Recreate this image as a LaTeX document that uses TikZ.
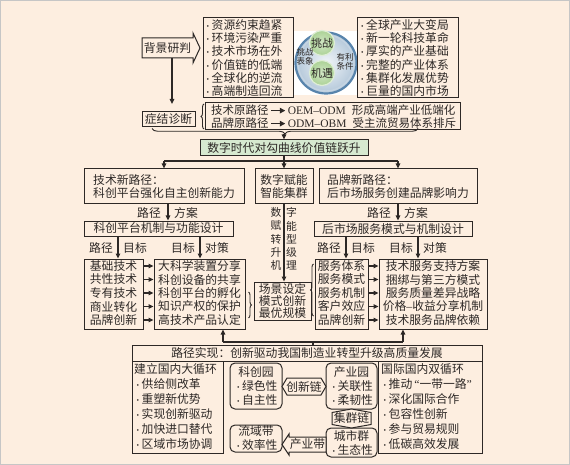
\documentclass[tikz,border=0pt]{standalone}
\usepackage{fontspec}
\setmainfont{Liberation Serif}
\newfontfamily\cjk{Noto Sans CJK SC}
\newfontfamily\lat{Liberation Serif}
\usetikzlibrary{arrows.meta,decorations.pathreplacing}
\definecolor{bgc}{RGB}{253,238,224}
\definecolor{lnc}{RGB}{45,40,38}
\definecolor{grn}{RGB}{214,233,208}
\definecolor{ring}{RGB}{88,132,172}
\definecolor{gcir}{RGB}{172,210,150}
\newcommand\bul{\makebox[7.5pt][c]{\fontsize{8}{8}\selectfont •}}
\newcommand\blk{\,\tikz[baseline=-0.6ex]\draw[line width=1.3pt,-{Triangle[length=5.5pt,width=5.5pt]}] (0pt,0pt)--(14pt,0pt);\,}
\newcommand\boxat[7]{\node[#6, minimum width={#4-#2}, minimum height={#5-#3}] (#1) at ({(#2+#4)/2},{(#3+#5)/2}) {#7};}
\tikzset{
  base/.style={font=\cjk\fontsize{11.8}{13.3}\selectfont, text=lnc, inner sep=0pt},
  bx/.style={base, draw=lnc, line width=1pt, fill=bgc, align=center},
  rbx/.style={bx, rounded corners=5pt},
  shp/.style={draw=lnc, line width=1pt, fill=bgc},
  arr/.style={draw=lnc, line width=1.3pt, -{Triangle[length=5pt,width=4.5pt]}},
  ln/.style={draw=lnc, line width=1.3pt},
  brc/.style={draw=lnc, line width=0.9pt, decorate},
  small/.style={font=\cjk\fontsize{8.5}{9.5}\selectfont, align=center},
}
\begin{document}
\begin{tikzpicture}[x=1pt,y=-1pt, every node/.style={base}]
\useasboundingbox (0,0) rectangle (570,465);
\fill[bgc] (0,0) rectangle (570,465);
\draw[gray!45, line width=0.6pt] (0.5,0.5) rectangle (569.5,464.5);

% ---------- top row
\draw[shp] (142,38) -- (193,38) -- (193,33) -- (200,48) -- (193,63) -- (193,58) -- (142,58) -- cycle;
\node (bj) at (167.5,48) {背景研判};

\boxat{L1}{203}{18}{293}{98}{bx}{}
\node[anchor=west, align=left] (L1t) at (204,58) {\bul 资源约束趋紧\\\bul 环境污染严重\\\bul 技术市场在外\\\bul 价值链的低端\\\bul 全球化的逆流\\\bul 高端制造回流};

\fill[white] (294,31) rectangle (357,95);
\shade[inner color=white!92!ring, outer color=ring!45!white] (326,63) circle (30);
\draw[ring!35!white, line width=1.4pt] (326,63) circle (28);
\draw[ring, line width=2.2pt] (326,63) circle (30.5);
\node[circle, minimum size=25pt, inner color=gcir!55!white, outer color=gcir, draw=white!60!gcir, line width=1.2pt, font=\cjk\fontsize{11}{11}\selectfont] (tz) at (322,43) {挑战};
\node[circle, minimum size=25pt, inner color=gcir!55!white, outer color=gcir, draw=white!60!gcir, line width=1.2pt, font=\cjk\fontsize{11}{11}\selectfont] (jy) at (322,73) {机遇};
\node[small] (bx1) at (305,57) {挑战\\表象};
\node[small] (bx2) at (345,62) {有利\\条件};

\boxat{R1}{357}{18}{458}{98}{bx}{}
\node[anchor=west, align=left] (R1t) at (358.5,58) {\bul 全球产业大变局\\\bul 新一轮科技革命\\\bul 厚实的产业基础\\\bul 完整的产业体系\\\bul 集群化发展优势\\\bul 巨量的国内市场};

% ---------- diagnosis
\boxat{zj}{142}{112}{195}{127}{bx}{症结诊断}
\coordinate (a0) at (172,58);
\coordinate (a1) at (172,104);
\draw[arr] (a0) -- (a1);
\draw[brc, decoration={brace, amplitude=3pt}] (204,129) -- (204,104);
\boxat{PB}{205}{103}{460}{129.5}{bx}{}
\node[anchor=west, align=left, font=\cjk\fontsize{11.5}{13}\selectfont] (PBt) at (211,116.5) {技术原路径\blk{\lat OEM–ODM}\hspace{6pt}形成高端产业低端化\\品牌原路径\blk{\lat ODM–OBM}\hspace{6pt}受主流贸易体系排斥};
\draw[brc, decoration={brace, amplitude=5.5pt}] (418,128.5) -- (152,128.5);

\boxat{gb}{200}{140}{368}{156}{bx, fill=grn}{数字时代对勾曲线价值链跃升}
\coordinate (btip) at (284,134);
\draw[arr] (btip) -- (gb.north);

% ---------- three branches
\boxat{T1}{84}{169}{244}{204}{bx, align=left}{技术新路径：\\科创平台强化自主创新能力}
\boxat{M1}{255}{169}{313}{204}{bx}{数字赋能\\智能集群}
\boxat{B1}{319}{169}{477}{204}{bx, align=left}{品牌新路径：\\后市场服务创建品牌影响力}
\coordinate (h0) at (284,161);
\draw[ln] (gb.south) -- (h0);
\draw[ln] (T1.north |- h0) -- (B1.north |- h0);
\draw[arr] (T1.north |- h0) -- (T1.north);
\draw[arr] (h0) -- (M1.north);
\draw[arr] (B1.north |- h0) -- (B1.north);

\boxat{T2}{84}{221}{233}{236}{bx}{科创平台机制与功能设计}
\boxat{B2}{314}{221}{472}{236}{bx}{后市场服务模式与机制设计}
\coordinate (p1) at (168,0);
\coordinate (p2) at (398,0);
\draw[arr] (T1.south -| p1) -- (T2.north -| p1);
\draw[arr] (B1.south -| p2) -- (B2.north -| p2);
\node[anchor=east] (l1) at (161,213) {路径};
\node[anchor=west] (l2) at (174,213) {方案};
\node[anchor=east] (l3) at (391,213) {路径};
\node[anchor=west] (l4) at (404,213) {方案};

% vertical text
\node[align=center, font=\cjk\fontsize{10.8}{13.2}\selectfont] (vt1) at (276,239) {数\\赋\\转\\升\\机};
\node[align=center, font=\cjk\fontsize{10.8}{13.2}\selectfont] (vt2) at (291.5,239) {字\\能\\型\\级\\理};

% ---------- row 2
\coordinate (q1) at (118,0);
\coordinate (q2) at (200,0);
\coordinate (q3) at (346,0);
\coordinate (q4) at (418,0);
\boxat{A}{84}{259}{143}{329}{bx}{}
\boxat{B}{154}{259}{245}{329}{bx}{}
\boxat{C}{315}{259}{368}{329}{bx}{}
\boxat{D}{379}{259}{487}{329}{bx}{}
\draw[arr] (T2.south -| q1) -- (A.north -| q1);
\draw[arr] (T2.south -| q2) -- (B.north -| q2);
\draw[arr] (B2.south -| q3) -- (C.north -| q3);
\draw[arr] (B2.south -| q4) -- (D.north -| q4);
\node[anchor=east] (m1) at (113,248) {路径};
\node[anchor=west] (m2) at (123,248) {目标};
\node[anchor=east] (m3) at (195,248) {目标};
\node[anchor=west] (m4) at (205,248) {对策};
\node[anchor=east] (m5) at (341,248) {路径};
\node[anchor=west] (m6) at (351,248) {目标};
\node[anchor=east] (m7) at (413,248) {目标};
\node[anchor=west] (m8) at (423,248) {对策};

\foreach [count=\i] \ta/\tb in {基础技术/大科学装置分享,共性技术/科创设备的共享,专有技术/科创平台的孵化,商业转化/知识产权的保护,品牌创新/高技术产品认定}{
  \node (ra\i) at (113.5,{252.5+13.5*\i}) {\ta};
  \node (rb\i) at (199.5,{252.5+13.5*\i}) {\tb};
  \draw[arr] (A.east |- ra\i) -- (B.west |- ra\i);
}
\foreach [count=\i] \ta/\tb in {服务体系/技术服务支持方案,服务模式/捆绑与第三方模式,服务机制/服务质量差异战略,客户效应/{价格\lat –\cjk 收益分享机制},品牌创新/技术服务品牌依赖}{
  \node (rc\i) at (341.5,{252.5+13.5*\i}) {\ta};
  \node (rd\i) at (433,{252.5+13.5*\i}) {\tb};
  \draw[arr] (C.east |- rc\i) -- (D.west |- rc\i);
}

\boxat{M2}{254}{282}{311}{320}{bx, font=\cjk\fontsize{11.8}{12.3}\selectfont}{场景设定\\模式创新\\最优规模}
\draw[arr] (M1.south) -- (M1.south |- M2.north);
\draw[brc, decoration={brace, amplitude=3pt}] (248.5,292) -- (248.5,318);
\draw[brc, decoration={brace, amplitude=3pt}] (313.5,316) -- (313.5,264);

% ---------- bottom connector
\coordinate (k1) at (223,342);
\coordinate (k2) at (403,342);
\coordinate (k3) at (313,342);
\draw[ln] (k1) -- (k2);
\draw[arr] (k1) -- (B.south -| k1);
\draw[arr] (k2) -- (D.south -| k2);

\boxat{H}{132}{345}{482}{361}{bx}{路径实现：创新驱动我国制造业转型升级高质量发展}
\draw[ln] (k3) -- (H.north -| k3);

\boxat{LB}{132}{361}{223}{453}{bx}{}
\node[anchor=north west, align=left, font=\cjk\fontsize{11.8}{15}\selectfont] (LBt) at (134,363) {建立国内大循环\\\bul 供给侧改革\\\bul 重塑新优势\\\bul 实现创新驱动\\\bul 加快进口替代\\\bul 区域市场协调};
\boxat{RB}{378}{361}{482}{453}{bx}{}
\node[anchor=north west, align=left, font=\cjk\fontsize{11.8}{15}\selectfont] (RBt) at (381,363) {国际国内双循环\\\bul 推动{\lat \,“}一带一路{\lat ”}\\\bul 深化国际合作\\\bul 包容性创新\\\bul 参与贸易规则\\\bul 低碳高效发展};

% ---------- middle cluster
\boxat{KC}{230}{363}{282}{409}{rbx, font=\cjk\fontsize{11.8}{14}\selectfont}{科创园\\\bul 绿色性\\\bul 自主性}
\boxat{CY}{326}{363}{377}{409}{rbx, font=\cjk\fontsize{11.8}{14}\selectfont}{产业园\\\bul 关联性\\\bul 柔韧性}
\boxat{CS}{326}{428}{377}{457}{rbx, font=\cjk\fontsize{11.8}{14}\selectfont}{城市群\\\bul 生态性}
\boxat{LY}{230}{425}{282}{452}{rbx, font=\cjk\fontsize{11.8}{14}\selectfont}{流域带\\\bul 效率性}

\coordinate (e1) at (282,386.5);
\coordinate (e2) at (326,386.5);
\draw[shp] (e1) -- (287,378) -- (321,378) -- (e2) -- (321,395) -- (287,395) -- cycle;
\node (cx) at (304,386.5) {创新链};
\coordinate (f1) at (351.5,409);
\coordinate (f2) at (351.5,428);
\draw[shp] (332,412.5) -- (f1) -- (371,412.5) -- (371,424.5) -- (f2) -- (332,424.5) -- cycle;
\node (jq) at (351.5,418.5) {集群链};
\coordinate (g1) at (282,444.5);
\draw[shp] (g1) -- (289,434) -- (289,437) -- (326,437) -- (326,452) -- (289,452) -- (289,455) -- cycle;
\node (cd) at (307.5,444.5) {产业带};
\end{tikzpicture}
\end{document}
